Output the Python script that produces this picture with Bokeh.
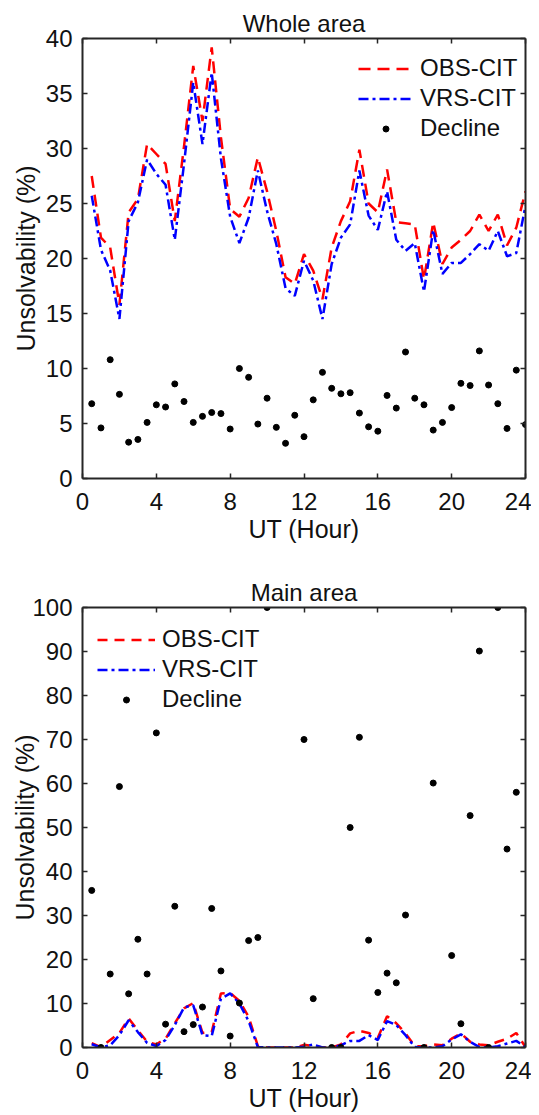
import numpy as np
from bokeh.plotting import figure
from bokeh.models import Range1d, FixedTicker, LinearAxis, CustomLabelingPolicy
from bokeh.layouts import column
from bokeh.embed import file_html
from bokeh.resources import INLINE

# ---------------- data ----------------
hours = [0.5, 1.0, 1.5, 2.0, 2.5, 3.0, 3.5, 4.0, 4.5, 5.0, 5.5, 6.0,
         6.5, 7.0, 7.5, 8.0, 8.5, 9.0, 9.5, 10.0, 10.5, 11.0, 11.5, 12.0,
         12.5, 13.0, 13.5, 14.0, 14.5, 15.0, 15.5, 16.0, 16.5, 17.0, 17.5, 18.0,
         18.5, 19.0, 19.5, 20.0, 20.5, 21.0, 21.5, 22.0, 22.5, 23.0, 23.5, 24.0]

whole_obs = [27.5, 21.9, 21.0, 15.8, 24.2, 25.4, 30.4, 29.5, 28.6, 23.4, 30.2, 37.5,
             32.5, 39.2, 31.0, 24.5, 23.8, 25.5, 29.2, 26.1, 22.5, 18.3, 17.7, 20.4,
             18.9, 16.3, 21.0, 23.4, 25.2, 29.9, 25.0, 24.2, 28.1, 23.3, 23.2, 23.1,
             18.1, 23.3, 19.5, 21.0, 21.7, 22.5, 24.0, 22.5, 24.0, 21.2, 22.8, 26.1]
whole_vrs = [25.7, 20.8, 18.9, 14.5, 23.4, 25.1, 29.0, 27.7, 26.7, 21.7, 28.6, 36.0,
             30.4, 36.9, 29.1, 23.8, 21.4, 23.7, 28.0, 24.3, 21.3, 17.3, 16.6, 19.8,
             18.0, 14.5, 19.5, 21.9, 23.1, 28.0, 23.9, 22.6, 26.1, 21.7, 20.7, 21.4,
             17.0, 22.6, 18.6, 19.6, 19.6, 20.4, 21.3, 20.7, 22.5, 20.2, 20.5, 24.8]
whole_decline = [6.8, 4.6, 10.8, 7.65, 3.3, 3.55, 5.1, 6.7, 6.5, 8.6, 7.0, 5.1,
                 5.65, 6.0, 5.9, 4.5, 10.0, 9.2, 4.95, 7.3, 4.65, 3.2, 5.75, 3.8,
                 7.15, 9.65, 8.2, 7.7, 7.8, 5.95, 4.7, 4.3, 7.55, 6.4, 11.5, 7.3,
                 6.7, 4.4, 5.1, 6.45, 8.65, 8.45, 11.6, 8.5, 6.8, 4.55, 9.85, 4.9]

main_obs = [1.0, 0.1, 1.7, 3.3, 6.6, 3.9, 1.3, 0.7, 2.0, 5.5, 8.9, 10.1,
            3.3, 3.5, 12.3, 12.4, 10.6, 7.0, 0.3, 0.0, 0.0, 0.0, 0.0, 0.6,
            0.4, 0.0, 0.0, 0.7, 3.2, 3.8, 3.3, 2.2, 7.1, 5.5, 3.2, 0.3,
            0.3, 0.7, 0.5, 2.0, 3.2, 1.3, 0.7, 0.5, 1.3, 2.0, 3.3, 0.1]
main_vrs = [0.75, 0.0, 0.5, 2.8, 6.2, 3.5, 1.05, 0.3, 1.7, 5.1, 9.1, 9.6,
            2.8, 2.6, 11.1, 12.3, 10.0, 6.0, 0.1, 0.0, 0.0, 0.0, 0.0, 0.2,
            0.7, 0.0, 0.0, 0.5, 1.5, 1.5, 2.8, 1.7, 6.0, 5.1, 2.8, 0.1,
            0.0, 0.0, 0.3, 1.8, 3.0, 1.3, 0.1, 0.0, 0.3, 0.9, 1.5, 0.1]
nan = float("nan")
main_decline = [35.7, 0.0, 16.7, 59.3, 12.2, 24.6, 16.7, 71.5, 5.3, 32.1, 3.6, 5.2,
                9.2, 31.6, 17.4, 2.6, 10.1, 24.3, 25.0, 100.0, nan, nan, nan, 70.0,
                11.1, nan, 0.0, 0.0, 50.0, 70.5, 24.4, 12.5, 16.9, 14.7, 30.1, nan,
                0.0, 60.1, nan, 20.9, 5.4, 52.7, 90.1, 0.0, 100.0, 45.1, 58.0, nan]

x_ticks = [0, 4, 8, 12, 16, 20, 24]
whole_y_ticks = [0, 5, 10, 15, 20, 25, 30, 35, 40]
main_y_ticks = [0, 10, 20, 30, 40, 50, 60, 70, 80, 90, 100]

titles = ["Whole area", "Main area"]
x_label = "UT (Hour)"
y_label = "Unsolvability (%)"
series_names = ["OBS-CIT", "VRS-CIT", "Decline"]

# ---------------- style ----------------
FONT = "Liberation Sans"
AX = "#262626"
TXT = "#111111"

NO_LABELS = """
const n = indices.size;
for (let i = 0; i < n; i++) { indices.unset(i); }
return indices;
"""


def style_axis(ax, show_labels=True):
    ax.axis_line_color = AX
    ax.axis_line_width = 2
    ax.major_tick_line_color = AX
    ax.major_tick_line_width = 1.5
    ax.major_tick_in = 5
    ax.major_tick_out = 0
    ax.minor_tick_line_color = None
    ax.major_label_text_font = FONT
    ax.major_label_text_color = TXT
    if show_labels:
        ax.major_label_text_font_size = "24px"
    else:
        ax.major_label_text_font_size = "0px"
        ax.major_label_text_alpha = 0
        ax.major_label_standoff = 0
        ax.major_label_policy = CustomLabelingPolicy(code=NO_LABELS)
    ax.axis_label_text_font = FONT
    ax.axis_label_text_font_size = "25px"
    ax.axis_label_text_font_style = "normal"
    ax.axis_label_text_color = TXT


def make_panel(title, obs, vrs, decline, y_max, y_ticks, top_border, bottom_border,
               legend_loc, glyph_w, ylab_standoff, red_dash):
    p = figure(frame_width=443, frame_height=440,
               x_range=Range1d(0, 24), y_range=Range1d(0, y_max),
               output_backend="svg", toolbar_location=None,
               min_border_left=82, min_border_right=6,
               min_border_top=top_border, min_border_bottom=bottom_border,
               title=title, background_fill_color="white",
               border_fill_color="white")
    p.outline_line_color = None
    p.grid.visible = False
    p.title.text_font = FONT
    p.title.text_font_size = "24px"
    p.title.text_font_style = "normal"
    p.title.text_color = TXT
    p.title.align = "center"
    p.title.standoff = 3

    p.xaxis[0].ticker = FixedTicker(ticks=x_ticks)
    p.yaxis[0].ticker = FixedTicker(ticks=y_ticks)
    style_axis(p.xaxis[0])
    style_axis(p.yaxis[0])
    p.xaxis[0].axis_label = x_label
    p.yaxis[0].axis_label = y_label
    p.xaxis[0].major_label_standoff = 14
    p.xaxis[0].axis_label_standoff = 2
    p.yaxis[0].major_label_standoff = 10
    p.yaxis[0].axis_label_standoff = ylab_standoff

    top_ax = LinearAxis(ticker=FixedTicker(ticks=x_ticks))
    right_ax = LinearAxis(ticker=FixedTicker(ticks=y_ticks))
    style_axis(top_ax, show_labels=False)
    style_axis(right_ax, show_labels=False)
    p.add_layout(top_ax, "above")
    p.add_layout(right_ax, "right")

    p.line(hours, obs, line_color="#ff0000", line_width=2.5, line_dash=red_dash,
           legend_label=series_names[0])
    p.line(hours, vrs, line_color="#0000ff", line_width=2.5, line_dash="10 4 3 4",
           legend_label=series_names[1])
    p.scatter(np.array(hours), np.array(decline, dtype=float), size=6,
              fill_color="black", line_color="black",
              legend_label=series_names[2])

    lg = p.legend[0]
    lg.location = legend_loc
    lg.border_line_color = None
    lg.background_fill_alpha = 0
    lg.label_text_font = FONT
    lg.label_text_font_size = "24px"
    lg.label_text_color = TXT
    lg.glyph_width = glyph_w
    lg.glyph_height = 15
    lg.label_height = 28
    lg.spacing = 2
    lg.padding = 5
    lg.margin = 0
    lg.label_standoff = 7
    return p


p1 = make_panel(titles[0], whole_obs, whole_vrs, whole_decline, 40, whole_y_ticks,
                38, 68, (276, 336), 55, 3, "12 7")
p2 = make_panel(titles[1], main_obs, main_vrs, main_decline, 100, main_y_ticks,
                61, 68, (15, 334), 58, -10, "10 7")

layout = column(p1, p2, spacing=0)
open("out.html", "w").write(file_html(layout, INLINE))
